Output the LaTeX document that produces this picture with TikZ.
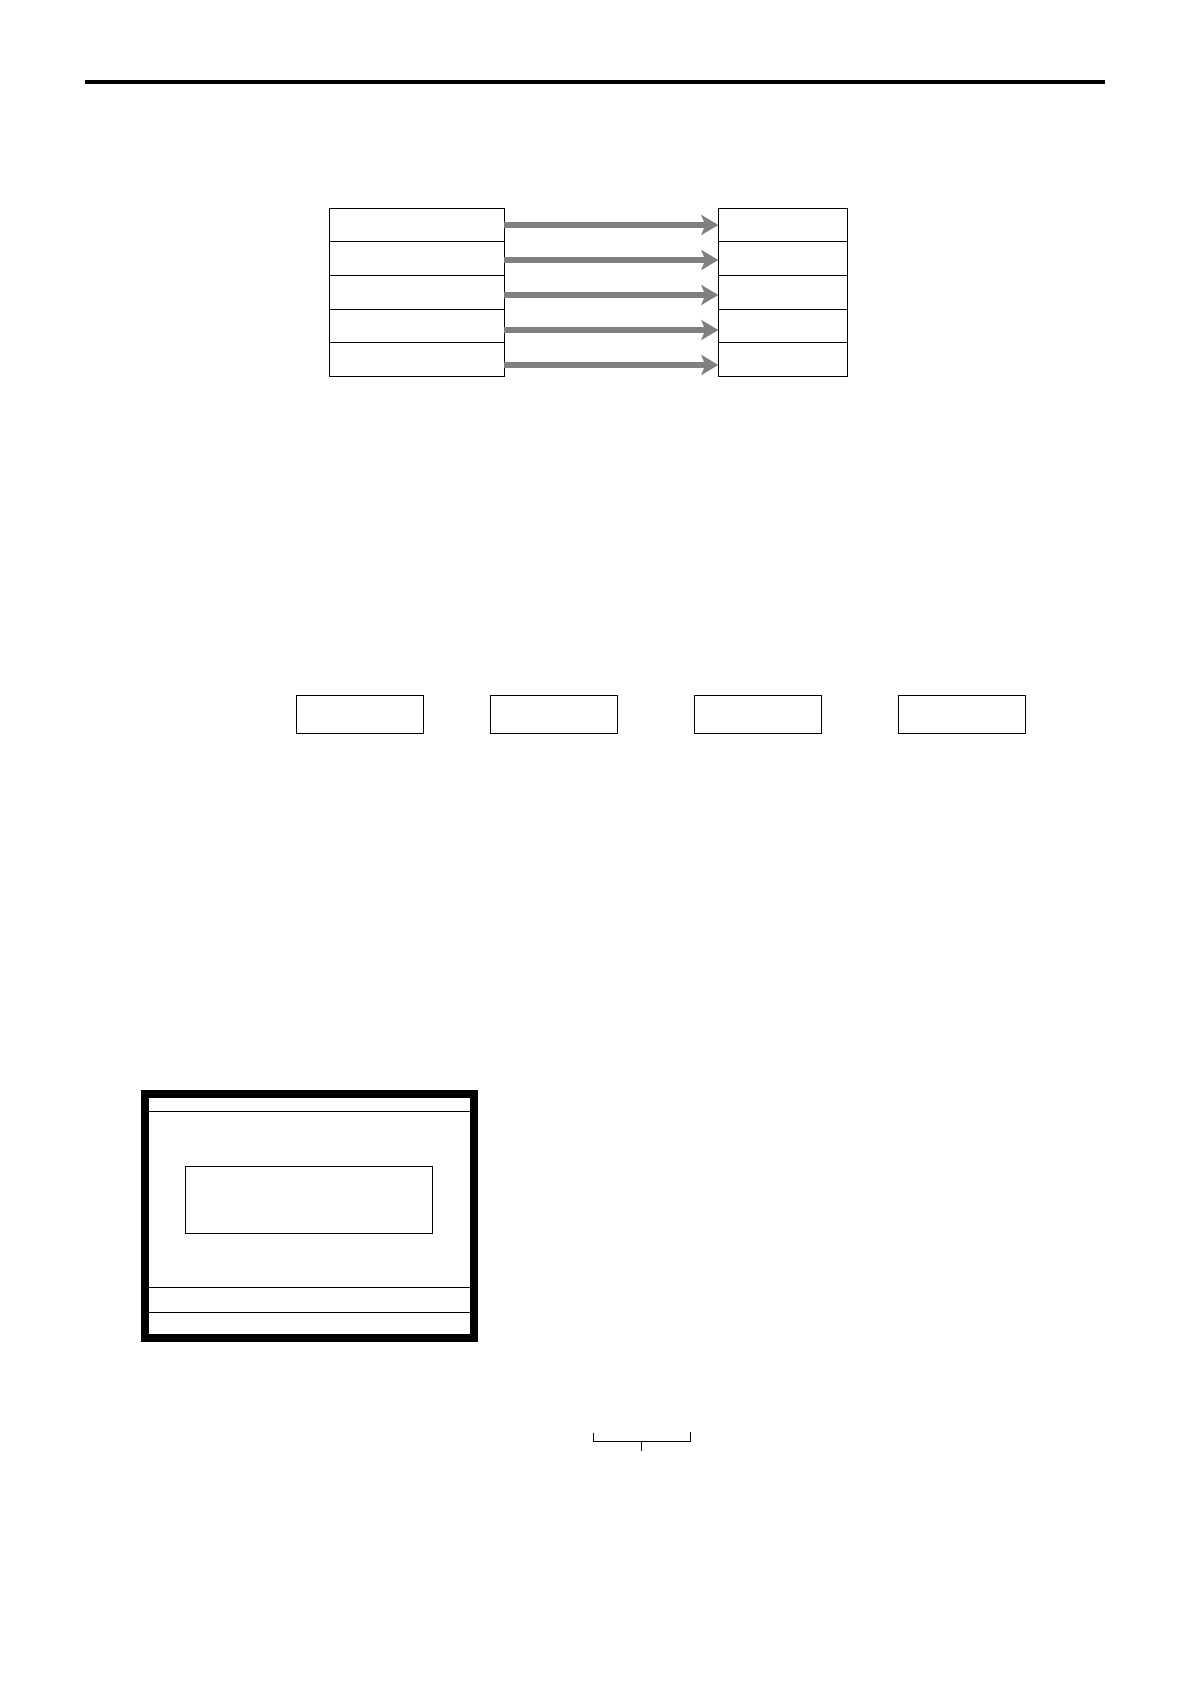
\documentclass[tikz,border=0pt]{standalone}
\usepackage{xcolor}
\usetikzlibrary{positioning}
\usetikzlibrary{arrows.meta, calc}

\tikzset{
    cell/.style={draw, line width=0.5pt, inner sep=0pt, outer sep=0pt, minimum height=16.8pt},
    leftcell/.style={cell, minimum width=87.3pt},
    rightcell/.style={cell, minimum width=64.5pt},
    keybox/.style={draw, line width=0.5pt, inner sep=0pt, outer sep=0pt, minimum width=63.5pt, minimum height=19pt},
    flow/.style={draw=gray, line width=2.7pt, -{Stealth[length=8.5pt, width=10pt, inset=2pt, fill=gray]}},
    thinline/.style={line width=0.5pt}
}

\begin{document}
\begin{tikzpicture}[x=0.5pt, y=-0.5pt]
        \useasboundingbox (0,0) rectangle (1190,1684);
        \draw[line width=2pt] (85,82) -- (1105,82);
        \begin{scope}[shift={(0,0)}]
            \foreach \i/\ay in {1/225,2/260,3/295,4/330,5/365} {
                \node[leftcell] (l\i) at (417, 191.5+33.6*\i) {};
                \node[rightcell] (r\i) at (782.8, 191.5+33.6*\i) {};
                \coordinate (a\i) at (611,\ay);
                \draw[flow] (l\i.east |- a\i) -- (r\i.west |- a\i);
            }
        \end{scope}
        \begin{scope}[shift={(0,714.3)}]
            \node[keybox] (k1) at (359.5,0) {};
            \node[keybox] (k2) at (554,0) {};
            \node[keybox] (k3) at (758,0) {};
            \node[keybox] (k4) at (962,0) {};
        \end{scope}
        \begin{scope}[shift={(0,0)}]
            \node[draw, line width=4pt, inner sep=0pt, outer sep=0pt, minimum width=164.5pt, minimum height=122pt] (screen) at (309.5,1216) {};
            \foreach \ly in {1111.3,1287.3,1312.3}
                \draw[thinline] (149,\ly) -- (470,\ly);
            \node[draw, line width=0.5pt, inner sep=0pt, outer sep=0pt, minimum width=123.7pt, minimum height=33.7pt] (msg) at (309,1200) {};
        \end{scope}
        \draw[thinline] (593.3,1432.5) -- (593.3,1441.3) -- (690.3,1441.3) -- (690.3,1432);
        \draw[thinline] (641.3,1441.3) -- (641.3,1450.7);
    \end{tikzpicture}
\end{document}
